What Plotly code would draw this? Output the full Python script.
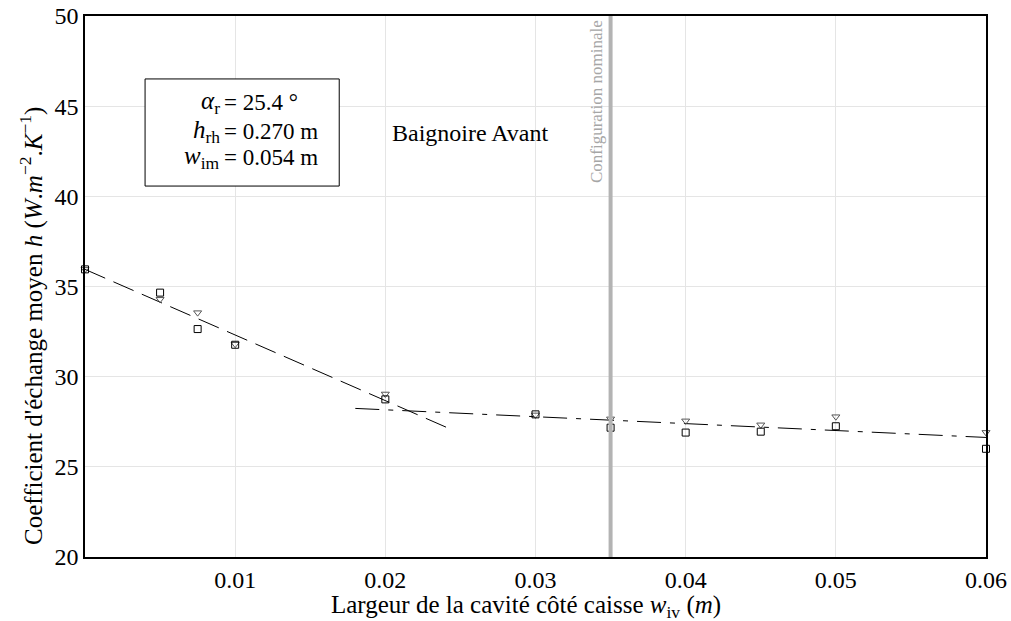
import plotly.graph_objects as go

# Data
w_iv = [0.0, 0.005, 0.0075, 0.01, 0.02, 0.03, 0.035, 0.04, 0.045, 0.05, 0.06]
h_square = [35.95, 34.66, 32.64, 31.77, 28.74, 27.91, 27.17, 26.90, 26.95, 27.25, 26.00]
h_triangle = [35.95, 34.29, 33.55, 31.80, 29.04, 27.88, 27.66, 27.55, 27.33, 27.78, 26.91]

fit1_x = [0.0, 0.0241]
fit1_y = [35.95, 27.18]
fit2_x = [0.018, 0.06]
fit2_y = [28.24, 26.63]

nominal_x = 0.035
x_ticks = [0.01, 0.02, 0.03, 0.04, 0.05, 0.06]
x_ticklabels = ["0.01", "0.02", "0.03", "0.04", "0.05", "0.06"]
y_ticks = [20, 25, 30, 35, 40, 45, 50]

param_lhs = ["<i>α</i><sub>r</sub>", "<i>h</i><sub>rh</sub>", "<i>w</i><sub>im</sub>"]
param_rhs = ["= 25.4 °", "= 0.270 m", "= 0.054 m"]

FONT = "Liberation Serif"

x_title = "Largeur de la cavité côté caisse <i>w</i><sub>iv</sub> (<i>m</i>)"
y_title = "Coefficient d'échange moyen <i>h</i> (<i>W</i>.<i>m</i><sup>−2</sup>.<i>K</i><sup>−1</sup>)"

fig = go.Figure()

fig.add_trace(go.Scatter(x=fit1_x, y=fit1_y, mode="lines",
                         line=dict(color="black", width=1, dash="22px,9px"),
                         showlegend=False, hoverinfo="skip"))
fig.add_trace(go.Scatter(x=fit2_x, y=fit2_y, mode="lines",
                         line=dict(color="black", width=1, dash="24px,9px,5px,9px"),
                         showlegend=False, hoverinfo="skip"))
fig.add_trace(go.Scatter(x=w_iv, y=h_triangle, mode="markers",
                         marker=dict(symbol="triangle-down-open", size=7, color="#555555",
                                     line=dict(width=1)),
                         showlegend=False, cliponaxis=False))
fig.add_trace(go.Scatter(x=w_iv, y=h_square, mode="markers",
                         marker=dict(symbol="square-open", size=7, color="black",
                                     line=dict(width=1)),
                         showlegend=False, cliponaxis=False))

fig.add_shape(type="line", xref="x", yref="paper", x0=nominal_x, x1=nominal_x, y0=0, y1=1,
              line=dict(color="#b3b3b3", width=4))

fig.add_annotation(x=nominal_x, xref="x", y=1, yref="paper", xanchor="center", yanchor="top",
                   xshift=-14, yshift=-2, text="Configuration nominale", textangle=-90,
                   showarrow=False, font=dict(family=FONT, size=17, color="#a6a6a6"))

# parameter box
fig.add_shape(type="rect", xref="x", yref="y", x0=0.004, x1=0.01693, y0=40.57, y1=46.51,
              line=dict(color="black", width=1), fillcolor="white", layer="above")
box_eq_x = 0.00913
line_y = [45.18, 43.57, 42.13]
for lhs, rhs, yy in zip(param_lhs, param_rhs, line_y):
    fig.add_annotation(x=box_eq_x, y=yy, xref="x", yref="y", xanchor="right", yanchor="middle",
                       text=lhs, showarrow=False, font=dict(family=FONT, size=25, color="black"))
    fig.add_annotation(x=box_eq_x, y=yy, xref="x", yref="y", xanchor="left", yanchor="middle",
                       text=rhs, showarrow=False, font=dict(family=FONT, size=23, color="black"))

fig.add_annotation(x=0.0257, y=43.5, xref="x", yref="y", text="Baignoire Avant",
                   showarrow=False, font=dict(family=FONT, size=24, color="black"))

# axis titles
fig.add_annotation(x=0.489, y=0, xref="paper", yref="paper", xanchor="center", yanchor="middle",
                   yshift=-49, text=x_title, showarrow=False,
                   font=dict(family=FONT, size=25, color="black"))
fig.add_annotation(x=0, y=0.427, xref="paper", yref="paper", xanchor="center", yanchor="middle",
                   xshift=-53, textangle=-90, text=y_title, showarrow=False,
                   font=dict(family=FONT, size=25, color="black"))

fig.update_layout(
    width=1011, height=621,
    margin=dict(l=85, r=25, t=16, b=64),
    plot_bgcolor="white", paper_bgcolor="white",
    font=dict(family=FONT, size=24, color="black"),
    xaxis=dict(range=[0, 0.06], tickvals=x_ticks, ticktext=x_ticklabels,
               showgrid=True, gridcolor="#e5e5e5", gridwidth=1,
               showline=True, linecolor="black", linewidth=1.5, mirror=True,
               zeroline=False, ticks="", automargin=False,
               tickfont=dict(size=24)),
    yaxis=dict(range=[20, 50], tickvals=y_ticks,
               showgrid=True, gridcolor="#e5e5e5", gridwidth=1,
               showline=True, linecolor="black", linewidth=1.5, mirror=True,
               zeroline=False, ticks="", automargin=False,
               tickfont=dict(size=24)),
)

fig.write_html("out.html", config={"displayModeBar": False},
               post_script="document.body.style.margin='0';document.body.style.padding='0';")
